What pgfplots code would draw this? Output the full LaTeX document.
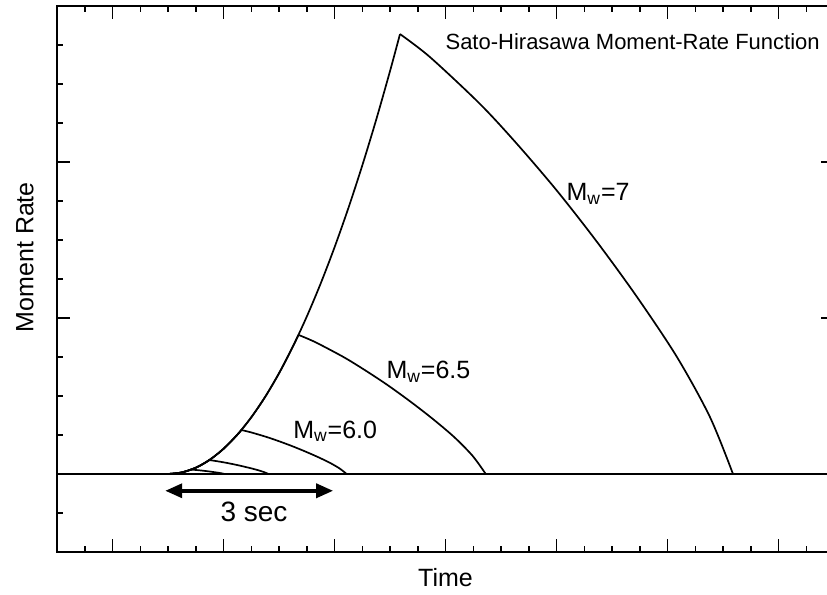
\documentclass[border=0pt]{standalone}
\usepackage{pgfplots}
\pgfplotsset{compat=1.18}
\usepackage{fontspec}
\setmainfont{Liberation Sans}
\usetikzlibrary{arrows.meta}

\begin{document}
\begin{tikzpicture}[font=\fontsize{12.5}{15}\selectfont]
  \begin{axis}[
      name=ax,
      scale only axis,
      width=388.5pt, height=273pt,
      xmin=0, xmax=28, ymin=-2, ymax=12,
      xtick={2,6,...,26}, ytick={0,4,8,12},
      minor xtick={0,...,28}, minor ytick={-2,...,12},
      xticklabels={}, yticklabels={},
      major tick length=6.5pt, minor tick length=3pt,
      tick style={line width=0.75pt, black},
      axis line style={line width=1pt},
      xlabel={Time}, ylabel={Moment Rate},
      xlabel style={at={(axis description cs:0.5,-0.0476)}, anchor=center},
      ylabel style={at={(axis description cs:-0.0412,0.54)}, anchor=center},
    ]
    % zero line
    \addplot[black, line width=1pt] coordinates {(0,0) (28,0)};

    % Mw = 7
    \addplot[black, line width=0.85pt, smooth] coordinates {(4,0) (4.5,0.040) (5,0.161) (5.5,0.363) (6,0.646) (6.5,1.009) (7,1.453) (7.5,1.977) (8,2.582) (8.5,3.268) (9,4.035) (9.5,4.882) (10,5.810) (10.5,6.819) (11,7.909) (11.5,9.079) (12,10.33) (12.36,11.28)};
    \addplot[black, line width=0.85pt, smooth] coordinates {(12.36,11.28) (13.44,10.69) (15.24,9.49) (16.58,8.46) (18.02,7.26) (19.46,5.95) (20.90,4.54) (22.34,3.00) (23.53,1.46) (24.36,0)};

    % Mw = 6.5
    \addplot[black, line width=0.85pt, smooth] coordinates {(4,0) (4.5,0.040) (5,0.161) (5.5,0.363) (6,0.646) (6.5,1.009) (7,1.453) (7.5,1.977) (8,2.582) (8.5,3.268) (8.70,3.567)};
    \addplot[black, line width=0.85pt, smooth] coordinates {(8.70,3.567) (9.31,3.380) (10.32,3.001) (11.07,2.675) (11.88,2.296) (12.69,1.881) (13.50,1.436) (14.31,0.949) (14.98,0.462) (15.45,0)};

    % Mw = 6.0
    \addplot[black, line width=0.85pt, smooth] coordinates {(4,0) (4.5,0.040) (5,0.161) (5.5,0.363) (6,0.646) (6.5,1.009) (6.643,1.128)};
    \addplot[black, line width=0.85pt, smooth] coordinates {(6.643,1.128) (6.985,1.069) (7.554,0.949) (7.978,0.846) (8.433,0.726) (8.888,0.595) (9.344,0.454) (9.799,0.300) (10.175,0.146) (10.438,0)};

    % Mw = 5.5
    \addplot[black, line width=0.85pt, smooth] coordinates {(4,0) (4.5,0.040) (5,0.161) (5.25,0.252) (5.486,0.357)};
    \addplot[black, line width=0.85pt, smooth] coordinates {(5.486,0.357) (5.678,0.338) (5.998,0.300) (6.237,0.268) (6.493,0.230) (6.749,0.188) (7.005,0.144) (7.261,0.095) (7.472,0.046) (7.620,0)};

    % Mw = 5.0
    \addplot[black, line width=0.85pt, smooth] coordinates {(4,0) (4.4,0.026) (4.836,0.113)};
    \addplot[black, line width=0.85pt, smooth] coordinates {(4.836,0.113) (4.944,0.107) (5.124,0.095) (5.258,0.085) (5.402,0.073) (5.546,0.060) (5.690,0.045) (5.834,0.030) (5.953,0.015) (6.036,0)};

    % annotations
    \draw[line width=1.75pt, {Triangle[length=8.5pt,width=7pt]}-{Triangle[length=8.5pt,width=7pt]}]
      (axis cs:3.9,-0.43) -- (axis cs:9.95,-0.43);
    \node[anchor=base, inner sep=0pt, font=\fontsize{14}{16}\selectfont] at (axis cs:7.1,-1.22) {3 sec};
    \node[anchor=base west, inner sep=0pt] at (axis cs:18.35,7.0) {M\textsubscript{w}=7};
    \node[anchor=base west, inner sep=0pt] at (axis cs:11.86,2.44) {M\textsubscript{w}=6.5};
    \node[anchor=base west, inner sep=0pt] at (axis cs:8.50,0.92) {M\textsubscript{w}=6.0};
    \node[anchor=east, inner sep=0pt, font=\fontsize{11}{13}\selectfont] at (axis cs:27.5,11.08) {Sato-Hirasawa Moment-Rate Function};
  \end{axis}
  \pgfresetboundingbox
  \path[use as bounding box] ([xshift=-28.5pt,yshift=-21pt]ax.south west) rectangle ([xshift=-3.5pt,yshift=3pt]ax.north east);
\end{tikzpicture}
\end{document}
